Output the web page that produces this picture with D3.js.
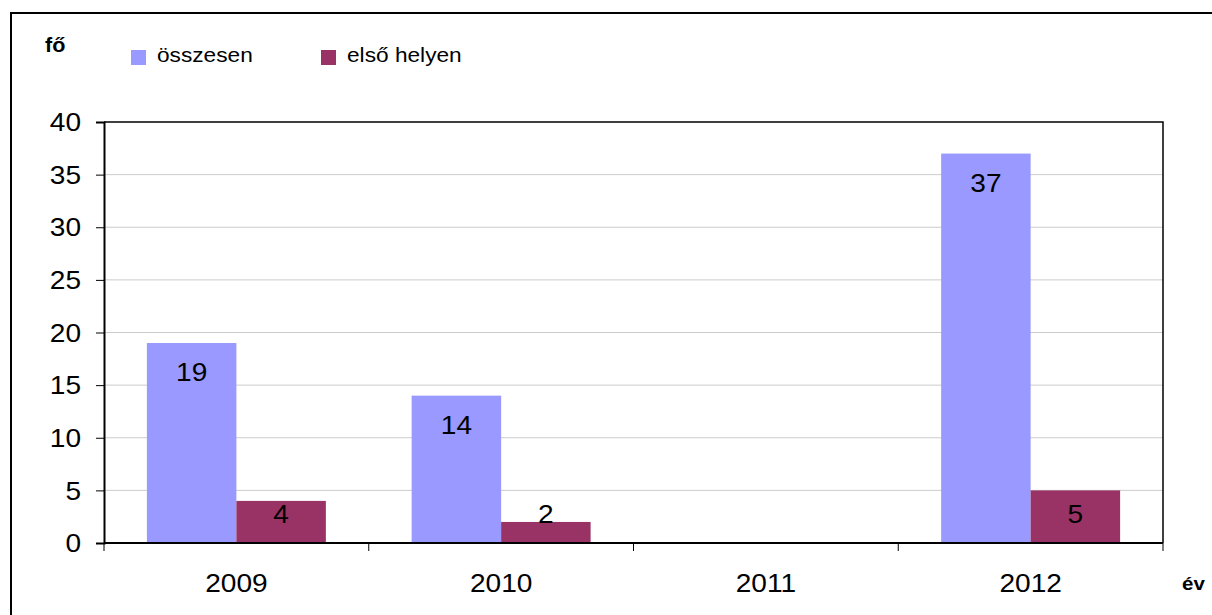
<!DOCTYPE html>
<html>
<head>
<meta charset="utf-8">
<script src="https://cdn.jsdelivr.net/npm/d3@7"></script>
<style>
  html, body { margin: 0; padding: 0; background: #fff; }
  svg { display: block; font-family: "Liberation Sans", Arial, sans-serif; }
</style>
</head>
<body>
<svg id="chart" width="1212" height="615"></svg>
<script>
const years = ["2009", "2010", "2011", "2012"];
const seriesNames = ["összesen", "első helyen"];
const totalValues = [19, 14, null, 37];
const firstPlaceValues = [4, 2, null, 5];
const yTicks = [0, 5, 10, 15, 20, 25, 30, 35, 40];
const colors = ["#9999FF", "#993366"];

(function () {
const svg = d3.select("#chart");
const pL = 104, pR = 1163, pT = 122, pB = 543;
const SX = 1.08; // horizontal text stretch seen in the reference
const NUM_FS = 26;

// outer frame
svg.append("rect").attr("x", 11).attr("y", 13).attr("width", 1300).attr("height", 700)
  .attr("fill", "none").attr("stroke", "#000").attr("stroke-width", 2);

const y = d3.scaleLinear().domain([0, 40]).range([pB, pT]);
const x = d3.scaleBand().domain(years).range([pL, pR]).paddingInner(0.324).paddingOuter(0.162);
const xs = d3.scaleBand().domain(seriesNames).range([0, x.bandwidth()]);

function stretchText(sel, tx, ty) {
  return sel.attr("transform", `translate(${tx},${ty}) scale(${SX},1)`);
}

// gridlines
svg.append("g").selectAll("line").data(yTicks.filter(t => t > 0 && t < 40)).join("line")
  .attr("x1", pL).attr("x2", pR).attr("y1", d => y(d)).attr("y2", d => y(d))
  .attr("stroke", "#cccccc").attr("stroke-width", 1);

// plot area border (top/right)
svg.append("path").attr("d", `M${pL},${pT}H${pR}V${pB}`)
  .attr("fill", "none").attr("stroke", "#000").attr("stroke-width", 1.5);

// bars
const data = years.map((yr, i) => ({ year: yr, values: [totalValues[i], firstPlaceValues[i]] }));
const groups = svg.append("g").selectAll("g").data(data).join("g")
  .attr("transform", d => `translate(${x(d.year)},0)`);
groups.selectAll("rect").data(d => d.values.map((v, k) => ({ v, k })).filter(e => e.v != null)).join("rect")
  .attr("x", e => xs(seriesNames[e.k])).attr("width", xs.bandwidth())
  .attr("y", e => y(e.v)).attr("height", e => y(0) - y(e.v))
  .attr("fill", e => colors[e.k]);

// data labels
groups.selectAll("text").data(d => d.values.map((v, k) => ({ v, k })).filter(e => e.v != null)).join("text")
  .each(function (e) {
    const cx = xs(seriesNames[e.k]) + xs.bandwidth() / 2;
    const by = Math.min(y(e.v) + 38, y(0) - 20);
    stretchText(d3.select(this), cx, by);
  })
  .attr("text-anchor", "middle").attr("font-size", NUM_FS).attr("fill", "#000")
  .text(e => e.v);

// y axis
const yAxis = svg.append("g").attr("transform", `translate(${pL},0)`)
  .call(d3.axisLeft(y).tickValues(yTicks).tickSize(8).tickPadding(0).tickFormat(d3.format("d")));
yAxis.select(".domain").attr("stroke", "#000").attr("stroke-width", 2);
yAxis.selectAll(".tick line").attr("stroke", "#000").attr("stroke-width", 1);
yAxis.selectAll(".tick text").each(function (d) {
  d3.select(this).attr("x", null).attr("dy", null).attr("y", null)
    .attr("dominant-baseline", "central");
  stretchText(d3.select(this), -23, 0);
}).attr("font-size", NUM_FS).attr("fill", "#000").attr("text-anchor", "end").attr("font-family", "Liberation Sans, Arial, sans-serif");

// x axis
const xAxisG = svg.append("g").attr("transform", `translate(0,${pB})`);
xAxisG.append("line").attr("x1", pL).attr("x2", pR).attr("stroke", "#000").attr("stroke-width", 2);
const boundaries = years.map(yr => x(yr) - x.step() * 0.162).concat([pR]);
xAxisG.selectAll("line.tk").data(boundaries).join("line").attr("class", "tk")
  .attr("x1", d => d).attr("x2", d => d).attr("y1", 0).attr("y2", 8)
  .attr("stroke", "#000").attr("stroke-width", 1);
xAxisG.selectAll("text").data(years).join("text")
  .each(function (d) { stretchText(d3.select(this), x(d) + x.bandwidth() / 2, 49); })
  .attr("text-anchor", "middle").attr("font-size", NUM_FS).attr("fill", "#000").text(d => d);

// axis titles
stretchText(svg.append("text"), 45, 52).attr("font-size", 20).attr("font-weight", "bold").text("fő");
stretchText(svg.append("text"), 1182, 590).attr("font-size", 19).attr("font-weight", "bold").text("év");

// legend
const legendX = [131, 321];
const lg = svg.append("g").selectAll("g").data(seriesNames).join("g")
  .attr("transform", (d, i) => `translate(${legendX[i]},50)`);
lg.append("rect").attr("width", 15).attr("height", 15).attr("fill", (d, i) => colors[i]);
lg.append("text").each(function () { stretchText(d3.select(this), 26, 12); })
  .attr("font-size", 21).attr("fill", "#000").text(d => d);
})();
</script>
</body>
</html>
